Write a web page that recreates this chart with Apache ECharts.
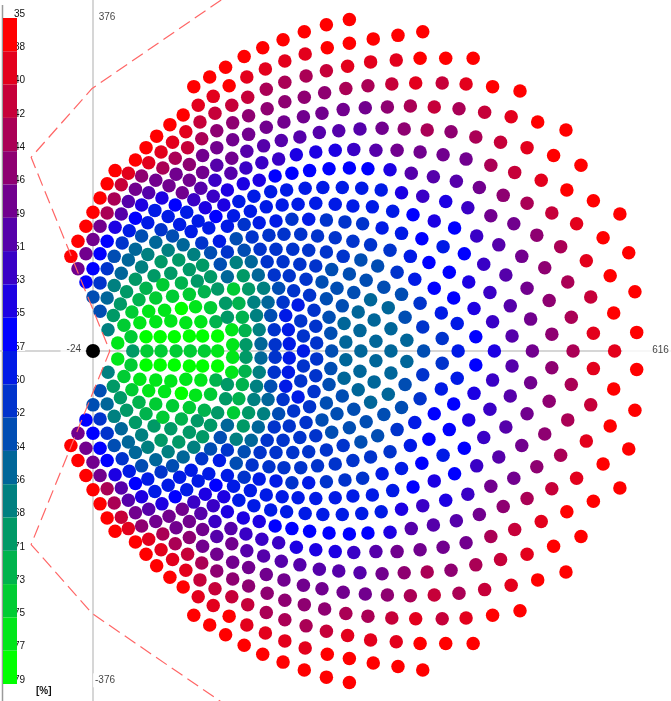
<!DOCTYPE html>
<html><head><meta charset="utf-8">
<style>html,body{margin:0;padding:0;background:#fff}#c{width:671px;height:701px}</style>
<script src="https://cdn.jsdelivr.net/npm/echarts@6/dist/echarts.min.js"></script>
</head><body><div id="c"></div>
<script>
// Heliostats, upper half of the symmetric field: [x, y, efficiency %]
const zoneNorthWest = [[150,321,36],[132,310,36],[114,299,36],[154,300,37],[136,288,38],[119,278,38],[102,267,36],[138,269,41],[121,259,41],[105,248,39],[87,256,36],[72,243,36],[60,230,36],[48,216,36],[25,204,36],[140,249,44],[123,240,42],[107,230,41],[90,236,38],[77,225,38],[63,213,39],[40,201,39],[140,230,47],[124,221,46],[109,211,44],[93,218,43],[79,207,42],[55,198,44],[32,188,41],[140,210,49],[124,202,48],[109,193,46],[94,200,46],[71,193,47],[48,183,47],[24,172,43],[138,193,51],[122,184,49],[101,179,48],[86,187,47],[63,179,50],[136,175,52],[114,171,51],[78,173,53],[152,182,53],[16,189,36],[8,173,36]];
const zoneSouthWest = [[0,157,36],[16,156,43],[32,155,50],[48,150,55],[70,159,58],[62,145,58],[85,152,57],[-8,141,36],[8,141,47],[25,140,53],[41,136,57],[77,137,60],[98,143,59],[-17,124,35],[0,126,46],[16,124,55],[33,122,60],[55,130,63],[90,130,63],[111,135,59],[-25,107,35],[-8,110,46],[8,110,55],[24,107,62],[40,103,65],[48,115,65],[71,123,65],[102,120,64],[123,122,60],[62,109,67],[85,114,67],[-17,93,47],[0,93,55],[16,93,60],[32,88,65],[55,95,67],[77,101,69],[97,103,69],[114,109,66],[133,111,62],[-8,78,55],[8,77,61],[24,74,66],[48,81,68],[69,85,70],[88,88,70],[109,92,69],[124,97,68],[144,98,63],[0,61,62],[16,60,64],[38,67,68],[60,71,71],[79,75,73],[100,77,71],[118,79,70],[133,84,69],[152,84,65],[8,45,63],[31,53,68],[52,58,72],[71,60,74],[90,62,73],[109,64,73],[126,67,72],[141,70,69],[23,40,68],[44,44,73],[63,45,75],[81,46,76],[100,48,79],[116,50,75],[133,49,74],[150,54,69],[17,24,67],[35,29,74],[53,32,76],[71,33,76],[88,34,75],[105,32,76],[122,33,76],[139,33,72],[43,16,73],[60,16,77],[76,16,78],[92,16,79],[109,17,78],[124,17,77],[141,17,77],[28,9,75],[45,0,70],[61,0,73],[77,0,73],[94,0,73],[110,0,73],[126,0,73],[141,0,75],[55,165,54],[40,169,50],[93,165,55],[106,157,57],[127,162,54],[148,165,53],[119,147,57],[139,152,56],[131,139,58],[152,141,58],[143,124,59],[152,112,61],[157,24,75],[158,7,76],[152,38,70]];
const zoneNorth = [[171,333,36],[192,343,36],[215,352,36],[239,361,36],[264,369,36],[290,375,36],[317,353,36],[345,357,36],[373,361,36],[370,331,37],[343,329,38],[314,327,39],[290,348,37],[265,343,37],[240,336,38],[217,328,38],[195,319,38],[174,310,38],[365,303,39],[338,302,40],[311,300,42],[288,322,39],[264,317,41],[241,311,42],[217,304,42],[196,296,43],[175,287,40],[157,278,40],[386,276,40],[359,277,42],[333,276,44],[308,275,46],[286,297,43],[262,292,44],[239,287,44],[217,282,44],[197,274,44],[176,266,44],[158,258,44],[378,250,43],[352,251,44],[327,252,47],[302,251,49],[283,273,47],[259,269,47],[238,265,47],[216,259,47],[196,253,46],[176,245,46],[158,239,46],[370,225,46],[344,227,47],[320,227,50],[295,228,52],[278,249,50],[256,247,50],[234,242,50],[213,238,49],[193,232,49],[174,226,49],[157,218,48],[385,197,49],[360,201,50],[336,205,53],[311,206,55],[290,207,55],[274,227,54],[252,225,53],[230,222,53],[210,217,52],[191,213,52],[173,207,51],[156,201,50],[373,175,51],[349,179,54],[326,182,57],[304,184,57],[282,185,57],[260,185,57],[267,206,56],[245,204,56],[225,201,56],[206,198,55],[188,193,54],[170,189,54],[240,184,57],[219,182,57],[201,180,57],[182,175,57]];
const zoneInner = [[165,169,57],[196,163,58],[214,165,58],[232,166,58],[252,167,59],[274,166,58],[294,164,58],[316,163,57],[339,158,57],[362,154,56],[386,147,53],[159,153,57],[178,158,57],[207,147,59],[225,149,60],[244,149,59],[264,148,60],[285,146,60],[305,144,60],[327,139,59],[349,133,57],[372,127,56],[171,143,60],[188,145,59],[199,131,60],[216,132,60],[235,132,60],[254,130,60],[274,128,60],[294,124,61],[314,120,61],[336,114,60],[359,107,58],[380,100,56],[162,127,63],[180,129,60],[171,114,63],[189,115,60],[207,115,60],[226,115,60],[244,114,60],[264,112,61],[283,107,61],[303,103,62],[322,96,62],[344,89,61],[364,81,59],[386,71,56],[162,100,67],[179,101,64],[197,101,60],[215,101,60],[234,98,60],[252,96,61],[270,92,62],[290,87,62],[309,80,62],[329,72,63],[349,64,62],[370,54,60],[170,85,68],[187,86,65],[205,86,61],[222,85,60],[241,81,60],[259,78,62],[276,71,63],[295,66,63],[314,58,64],[334,49,64],[353,38,63],[373,27,60],[159,70,73],[176,70,70],[193,71,66],[210,71,62],[227,68,60],[245,63,61],[264,59,62],[282,51,63],[300,44,64],[318,35,65],[337,25,65],[355,12,64],[374,0,62],[165,54,71],[182,55,67],[198,55,64],[215,55,60],[232,52,59],[250,46,61],[267,38,62],[284,31,64],[302,23,65],[320,11,65],[337,0,65],[169,38,72],[185,40,67],[201,40,63],[218,40,58],[235,34,60],[252,28,61],[269,20,63],[286,10,65],[303,0,65],[172,23,71],[188,24,66],[205,24,61],[221,24,58],[238,17,60],[253,9,61],[270,0,63],[173,7,70],[190,8,65],[206,7,60],[222,8,57],[238,0,57]];
const zoneEast = [[399,331,36],[430,331,36],[483,294,36],[452,299,37],[422,302,38],[395,303,40],[535,250,36],[503,259,36],[473,265,38],[443,270,40],[414,274,43],[552,210,36],[521,221,37],[491,230,39],[461,236,41],[433,242,42],[405,248,45],[596,155,36],[566,170,36],[536,182,36],[507,193,39],[477,202,41],[450,210,43],[422,217,46],[396,222,48],[606,111,36],[577,128,36],[547,144,38],[519,156,41],[491,167,43],[464,176,45],[437,185,47],[411,192,50],[613,67,36],[585,85,37],[558,102,39],[529,118,42],[502,131,44],[476,144,46],[450,153,48],[424,162,51],[399,169,54],[615,21,36],[589,43,37],[563,61,40],[537,78,43],[511,94,45],[485,107,47],[459,120,49],[434,130,52],[409,139,55],[590,0,38],[566,20,39],[541,38,42],[516,57,45],[491,71,47],[467,86,49],[442,98,52],[420,110,55],[396,118,57],[543,0,43],[519,19,44],[495,36,47],[472,51,49],[449,66,52],[425,78,54],[403,89,56],[497,0,48],[474,17,49],[452,33,52],[431,48,54],[408,60,56],[454,0,54],[433,16,55],[412,31,57],[394,43,58],[413,0,58],[395,14,60]];
// Tower, field boundary (upper half) and the four labelled field extents
const tower = [[0, 0]];
const boundaryX = [145, -1, -70, 19];
const boundaryY = [397, 297, 219, 0];
const extents = [[-24, 0, '-24'], [616, 0, '616'], [0, 376, '376'], [0, -376, '-376']];
const extentOffsets = [[1, -2], [9, -1], [14, -1], [12, -3]];
// Legend
const legendTicks = [35,38,40,42,44,46,49,51,53,55,57,60,62,64,66,68,71,73,75,77,79];
const legendBreaks = [35,37.2,39.4,41.6,43.8,46,48.2,50.4,52.6,54.8,57,59.2,61.4,63.6,65.8,68,70.2,72.4,74.6,76.8,79];
const legendColors = ['#ff0000','#e3001c','#c60039','#aa0055','#8e0071','#71008e','#5500aa','#3900c6','#1c00e3','#0000ff','#001ae6','#0033cc','#004db3','#006699','#008080','#009966','#00b34d','#00cc33','#00e61a','#00ff00'];

const upper = [].concat(zoneNorthWest, zoneSouthWest, zoneNorth, zoneInner, zoneEast);
const field = upper.concat(upper.filter(p => p[1] !== 0).map(p => [p[0], -p[1], p[2]]));
const boundary = boundaryX.map((x, i) => [x, boundaryY[i]])
  .concat(boundaryX.slice(0, 3).reverse().map((x, i) => [x, -boundaryY[2 - i]]));
const font = '"Liberation Sans", Arial, sans-serif';

const chart = echarts.init(document.getElementById('c'), null, {renderer: 'canvas'});
chart.setOption({
  animation: false,
  backgroundColor: '#fff',
  grid: [
    {left: 0, top: 0, width: 671, height: 701},
    {left: 3, top: 18, width: 14, height: 666}
  ],
  xAxis: [
    {type: 'value', min: -105.2, max: 653.8, axisLine: {onZero: true, lineStyle: {color: '#c8c8c8', width: 1.5}}, axisTick: {show: false}, axisLabel: {show: false}, splitLine: {show: false}},
    {type: 'category', gridIndex: 1, data: ['%'], show: false}
  ],
  yAxis: [
    {type: 'value', min: -396, max: 397, axisLine: {onZero: true, show: true, lineStyle: {color: '#c8c8c8', width: 1.5}}, axisTick: {show: false}, axisLabel: {show: false}, splitLine: {show: false}},
    {type: 'value', gridIndex: 1, min: 0, max: 20, interval: 1, inverse: true, position: 'right',
     axisLine: {show: false}, axisTick: {show: false}, splitLine: {show: false},
     axisLabel: {margin: -3, color: '#111', fontFamily: font, fontSize: 10, backgroundColor: '#fff', verticalAlign: 'bottom', lineHeight: 8, align: 'left',
       formatter: v => String(legendTicks[v])}}
  ],
  visualMap: {
    show: false, type: 'piecewise', dimension: 2, seriesIndex: 0,
    pieces: legendColors.map((c, i) => ({gte: legendBreaks[i], lt: i === 19 ? 80 : legendBreaks[i + 1], color: c}))
  },
  graphic: [
    {type: 'line', silent: true, shape: {x1: 2.5, y1: 5, x2: 2.5, y2: 701}, style: {stroke: '#9a9a9a', lineWidth: 1.5}},
    {type: 'text', silent: true, left: 36, top: 686, style: {text: '[%]', fill: '#111', font: 'bold 10px ' + font}}
  ],
  series: [
    {type: 'scatter', data: field, symbolSize: 13.5, itemStyle: {opacity: 1}, z: 3},
    {type: 'scatter', data: tower, symbolSize: 14, itemStyle: {color: '#000', opacity: 1}, z: 3},
    {type: 'line', data: boundary, showSymbol: false, symbol: 'none', lineStyle: {color: '#f66', width: 1.2, type: [13, 6]}, z: 4, silent: true},
    {type: 'scatter', data: extents.map((e, i) => ({value: [e[0], e[1]], name: e[2],
        label: {offset: extentOffsets[i], padding: i === 1 ? [2, 2, 2, 30] : i === 0 ? [2, 4, 2, 6] : 2}})),
      symbolSize: 1, itemStyle: {color: 'rgba(0,0,0,0)'}, z: 2, silent: true,
      label: {show: true, position: 'inside', formatter: '{b}', color: '#111', fontFamily: font, fontSize: 10, backgroundColor: '#fff'}}
  ].concat(legendColors.map(c => ({
    type: 'bar', xAxisIndex: 1, yAxisIndex: 1, stack: 'legend', barWidth: '100%', data: [1], itemStyle: {color: c}, silent: true, z: 1
  })))
});
</script></body></html>
